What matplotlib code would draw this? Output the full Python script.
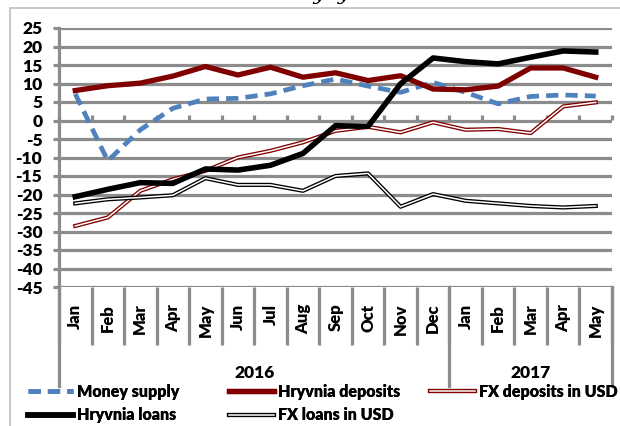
import matplotlib
matplotlib.use("Agg")
import matplotlib.pyplot as plt
import matplotlib.transforms as mtransforms
from matplotlib.lines import Line2D
from matplotlib.patches import Rectangle
import numpy as np

plt.rcParams['font.family'] = ['Lato', 'DejaVu Sans']

months = ["Jan", "Feb", "Mar", "Apr", "May", "Jun", "Jul", "Aug", "Sep", "Oct", "Nov", "Dec",
          "Jan", "Feb", "Mar", "Apr", "May"]
years = ["2016", "2017"]
year_counts = [12, 5]

money_supply = [7.2, -10.9, -2.5, 3.3, 5.8, 6.0, 7.2, 9.4, 11.2, 9.3, 7.6, 10.3, 7.6, 4.5, 6.5, 6.9, 6.6]
hryvnia_deposits = [8.1, 9.4, 10.1, 12.0, 14.6, 12.3, 14.4, 11.7, 12.9, 10.8, 12.1, 8.5, 8.3, 9.3, 14.2, 14.2, 11.7]
fx_deposits_usd = [-28.5, -26.2, -19.0, -15.9, -13.6, -10.0, -8.2, -5.9, -2.8, -1.7, -3.2, -0.5, -2.5, -2.3, -3.4, 3.8, 4.9]
hryvnia_loans = [-20.6, -18.6, -16.8, -17.0, -13.1, -13.4, -12.1, -8.9, -1.4, -1.6, 9.9, 16.9, 15.9, 15.3, 17.1, 18.8, 18.5]
fx_loans_usd = [-22.4, -21.3, -20.8, -20.2, -15.6, -17.4, -17.4, -19.0, -15.0, -14.3, -23.3, -19.9, -21.7, -22.4, -23.1, -23.5, -23.1]

yticks = list(range(-45, 30, 5))

W, H = 620, 426
fig = plt.figure(figsize=(W / 100, H / 100), dpi=100)

def fx(px):
    return px / W

def fy(py):
    return 1 - py / H

left, right, top, bottom = 59, 612, 28, 287
ax = fig.add_axes([fx(left), fy(bottom), fx(right - left), (bottom - top) / H])

GRID = "#8C8C8C"
DRED = "#800000"
BLUE = "#4F81BD"
WEIGHT = 'heavy'

x = np.arange(len(months))
ax.set_xlim(-0.5, len(months) - 0.5)
ax.set_ylim(-45, 25)

# grid
ax.set_yticks(yticks)
ax.set_yticklabels([str(v) for v in yticks], fontsize=12.5, fontweight=WEIGHT)
ax.yaxis.grid(True, color=GRID, linewidth=2.3)
ax.set_axisbelow(True)
ax.tick_params(axis='y', length=4, width=2.3, color=GRID, pad=8)
for s in ["top", "right", "bottom"]:
    ax.spines[s].set_visible(False)
ax.spines['left'].set_color(GRID)
ax.spines['left'].set_linewidth(2.3)
ax.spines['left'].set_bounds(-45, 25)

# month labels and dividers
ax.set_xticks(x)
ax.set_xticklabels(months, rotation=90, fontsize=12, fontweight=WEIGHT, va='top')
ax.set_xticks(np.arange(-0.5, len(months), 1.0), minor=True)
ax.tick_params(axis='x', which='major', length=0, pad=12)
ax.tick_params(axis='x', which='minor', length=42, width=2.3, color=GRID)

# ticks on the zero line
sec = ax.secondary_xaxis(45 / 70)
sec.set_xticks(np.arange(-0.5, len(months), 1.0))
sec.set_xticklabels([])
sec.tick_params(axis='x', length=3.5, width=2.3, color=GRID, direction='out')
for s in ["top", "bottom", "left", "right"]:
    sec.spines[s].set_visible(False)

# year separators and labels
blend = mtransforms.blended_transform_factory(ax.transData, fig.transFigure)
bounds = np.concatenate([[0], np.cumsum(year_counts)]) - 0.5
for b in bounds:
    fig.add_artist(Line2D([b, b], [fy(bottom), fy(386)], transform=blend,
                          color=GRID, linewidth=2.3))
for i, yl in enumerate(years):
    cx = (bounds[i] + bounds[i + 1]) / 2
    fig.text(cx, fy(373), yl, transform=blend, ha='center', va='center',
             fontsize=12.5, fontweight=WEIGHT)

# series
l_ms, = ax.plot(x, money_supply, color=BLUE, linewidth=3.4, linestyle=(0, (2.6, 1.5)), zorder=3)
l_hd, = ax.plot(x, hryvnia_deposits, color=DRED, linewidth=3.8, zorder=4, solid_joinstyle='round')
l_fd1, = ax.plot(x, fx_deposits_usd, color=DRED, linewidth=3.0, zorder=5)
l_fd2, = ax.plot(x, fx_deposits_usd, color="white", linewidth=1.1, zorder=5.1)
l_hl, = ax.plot(x, hryvnia_loans, color="black", linewidth=4.0, zorder=6, solid_joinstyle='round')
l_fl1, = ax.plot(x, fx_loans_usd, color="black", linewidth=3.0, zorder=7)
l_fl2, = ax.plot(x, fx_loans_usd, color="white", linewidth=1.1, zorder=7.1)

# legends (three columns)
LSIZE = 11.5
def leg(handles, labels, xpx):
    lg = fig.legend(handles, labels, loc='upper left',
                    bbox_to_anchor=(fx(xpx), fy(384)), frameon=False,
                    prop={'weight': WEIGHT, 'size': LSIZE},
                    handlelength=2.8, handletextpad=0.25, labelspacing=0.45,
                    borderpad=0, borderaxespad=0)
    fig.add_artist(lg)
    return lg

leg([l_ms, l_hl], ["Money supply", "Hryvnia loans"], 28)
leg([l_hd, (l_fl1, l_fl2)], ["Hryvnia deposits", "FX loans in USD"], 229)
leg([(l_fd1, l_fd2)], ["FX deposits in USD"], 430)

# outer frame and title fragment
fig.add_artist(Rectangle((fx(10), -0.1), 1.2, fy(8) + 0.1, transform=fig.transFigure,
                         fill=False, edgecolor="#BFBFBF", linewidth=1.2))
fig.text(fx(318), fy(0.5), "% yoy", ha='center', va='baseline', fontsize=15,
         style='italic', family='DejaVu Serif')

fig.savefig("out.png", dpi=100)
